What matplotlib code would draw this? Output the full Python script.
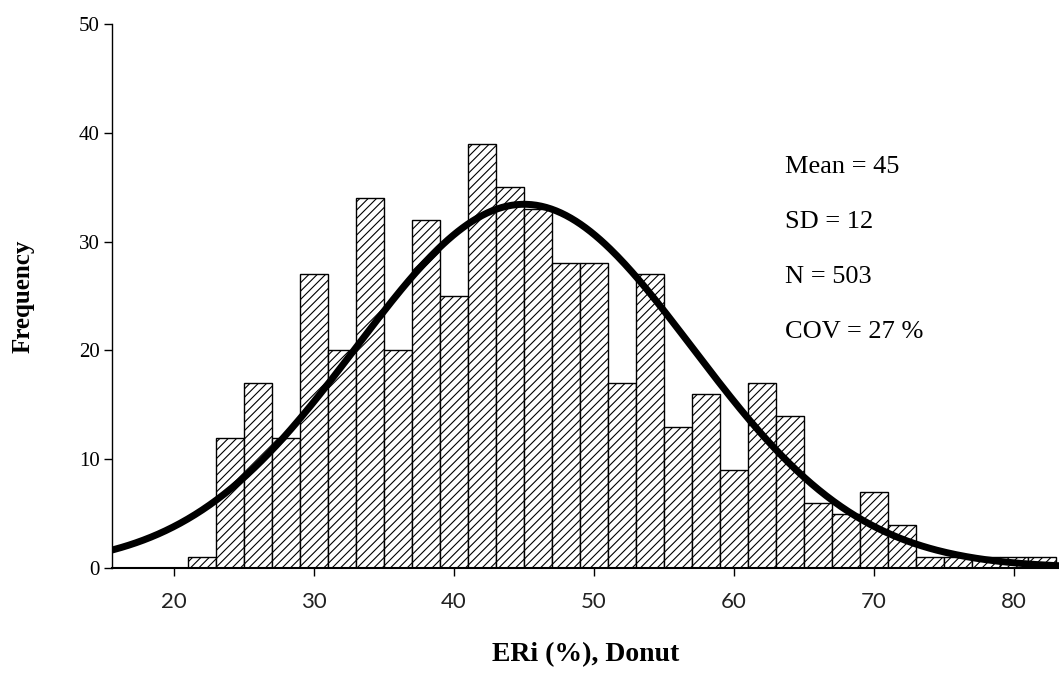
import matplotlib
matplotlib.use("Agg")
import matplotlib.pyplot as plt
import numpy as np

# histogram bins (2 % wide, centred on even values) and counts
bin_centers = [22, 24, 26, 28, 30, 32, 34, 36, 38, 40, 42, 44, 46, 48, 50,
               52, 54, 56, 58, 60, 62, 64, 66, 68, 70, 72, 74, 76, 78, 80, 82]
counts = [1, 12, 17, 12, 27, 20, 34, 20, 32, 25, 39, 35, 33, 28, 28,
          17, 27, 13, 16, 9, 17, 14, 6, 5, 7, 4, 1, 1, 1, 1, 1]
bin_width = 2

mean = 45
sd = 12
n = 503
cov = 27

x_ticks = [20, 30, 40, 50, 60, 70, 80]
y_ticks = [0, 10, 20, 30, 40, 50]

fig = plt.figure(figsize=(10.59, 6.73), dpi=100)
ax = fig.add_axes([0.1058, 0.156, 0.8942, 0.808])

plt.rcParams['hatch.linewidth'] = 0.8
ax.bar(bin_centers, counts, width=bin_width, color="white", edgecolor="black",
       linewidth=1.0, hatch="////", zorder=2)

# fitted normal curve scaled to counts
xs = np.linspace(15, 85, 400)
ys = n * bin_width / (sd * np.sqrt(2 * np.pi)) * np.exp(-0.5 * ((xs - mean) / sd) ** 2)
ax.plot(xs, ys, color="black", linewidth=5, zorder=3, solid_capstyle="butt")

ax.set_xlim(15.57, 83.2)
ax.set_ylim(0, 50)
ax.set_xticks(x_ticks)
ax.set_yticks(y_ticks)
ax.spines["top"].set_visible(False)
ax.spines["right"].set_visible(False)
ax.spines["left"].set_linewidth(1.0)
ax.spines["bottom"].set_linewidth(1.5)
ax.tick_params(axis="x", direction="out", length=6, width=1, pad=11)
ax.tick_params(axis="y", direction="out", length=6, width=1, pad=3)

for lab in ax.get_xticklabels():
    lab.set_fontfamily("Lato")
    lab.set_fontsize(16)
    lab.set_color("#222222")
for lab in ax.get_yticklabels():
    lab.set_fontfamily("Liberation Serif")
    lab.set_fontsize(15)

ax.set_xlabel("ERi (%), Donut", fontfamily="Liberation Serif", fontweight="bold",
              fontsize=20, labelpad=22)
ax.set_ylabel("Frequency", fontfamily="Liberation Serif", fontweight="bold",
              fontsize=18, labelpad=32)

stats = ["Mean = %d" % mean, "SD = %d" % sd, "N = %d" % n, "COV = %d %%" % cov]
for i, s in enumerate(stats):
    ax.text(0.711, 0.737 - i * 0.101, s, transform=ax.transAxes,
            fontfamily="Liberation Serif", fontsize=19, va="center", ha="left")

fig.savefig("out.png", dpi=100)
